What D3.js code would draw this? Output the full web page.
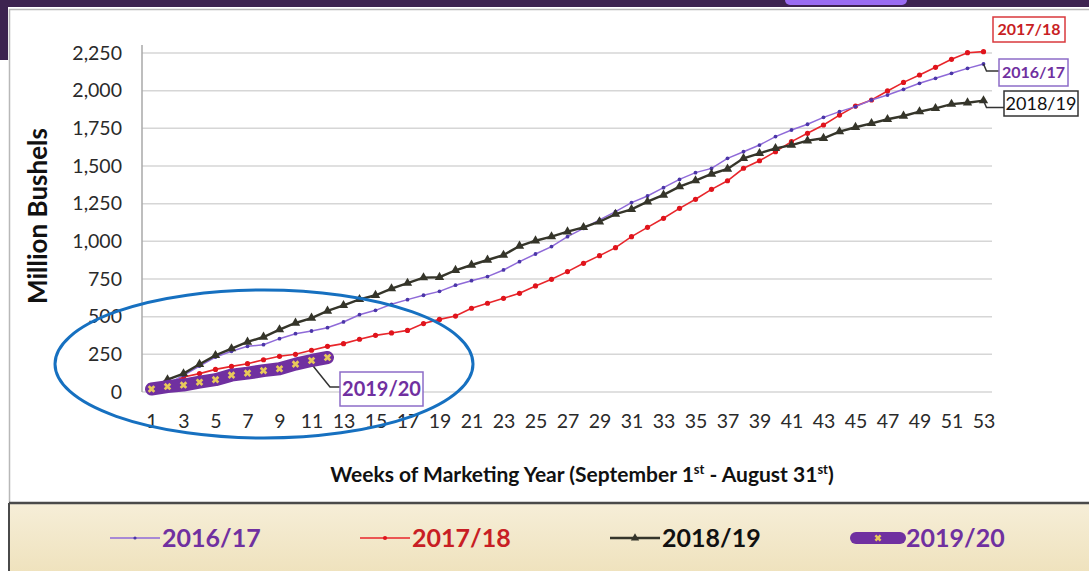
<!DOCTYPE html>
<html>
<head>
<meta charset="utf-8">
<script src="https://d3js.org/d3.v7.min.js"></script>
<style>
  body { margin: 0; background: #fff; }
  svg { display: block; font-family: Lato, "Open Sans", sans-serif; }
</style>
</head>
<body>
<div id="chart"></div>
<script>
// weekly cumulative exports, million bushels
var weeks = d3.range(1, 54);
var tickWeeks = weeks.filter(function(d){ return d % 2 === 1; });
var yTicks = [0, 250, 500, 750, 1000, 1250, 1500, 1750, 2000, 2250];

var my2016 = [15, 55, 110, 172, 232, 270, 303, 314, 354, 387,
              405, 427, 465, 513, 542, 582, 613, 642, 668, 709,
              739, 766, 810, 865, 916, 965, 1031, 1086, 1142, 1197,
              1257, 1301, 1356, 1411, 1456, 1484, 1551, 1595, 1639, 1695,
              1739, 1777, 1823, 1861, 1894, 1938, 1971, 2009, 2049, 2082,
              2115, 2148, 2177];
var my2017 = [15, 55, 100, 122, 150, 170, 188, 214, 237, 250,
              277, 303, 321, 350, 376, 392, 409, 454, 482, 504,
              556, 589, 622, 655, 704, 748, 799, 854, 905, 958,
              1031, 1093, 1153, 1219, 1279, 1345, 1402, 1485, 1535, 1595,
              1662, 1717, 1772, 1838, 1898, 1938, 1998, 2055, 2104, 2155,
              2208, 2252, 2259];
var my2018 = [20, 82, 122, 184, 243, 288, 332, 365, 414, 458,
              491, 538, 575, 615, 642, 686, 723, 759, 762, 808,
              843, 876, 909, 969, 1004, 1031, 1064, 1093, 1130, 1181,
              1212, 1263, 1308, 1363, 1403, 1447, 1480, 1551, 1584, 1617,
              1639, 1668, 1684, 1728, 1757, 1783, 1810, 1832, 1861, 1883,
              1911, 1920, 1934];
var my2019 = [20, 36, 46, 65, 82, 112, 125, 142, 154, 185, 209, 229];

var seriesNames = ['2016/17', '2017/18', '2018/19', '2019/20'];

var W = 1089, H = 571;
var svg = d3.select('#chart').append('svg').attr('width', W).attr('height', H);

// slide frame
svg.append('rect').attr('x', 0).attr('y', 0).attr('width', W).attr('height', 7).attr('fill', '#3d2350');
svg.append('rect').attr('x', 0).attr('y', 0).attr('width', 8).attr('height', 60).attr('fill', '#3d2350');
svg.append('rect').attr('x', 785).attr('y', -6).attr('width', 122).attr('height', 11).attr('rx', 5).attr('fill', '#9a6cf2');
svg.append('rect').attr('x', 9.5).attr('y', 9.5).attr('width', W + 10).attr('height', 494)
    .attr('fill', '#fff').attr('stroke', '#b8b8b8').attr('stroke-width', 1.5);

// legend strip
var grad = svg.append('defs').append('linearGradient').attr('id', 'lg').attr('x1', 0).attr('y1', 0).attr('x2', 0).attr('y2', 1);
grad.append('stop').attr('offset', '0%').attr('stop-color', '#f6eed8');
grad.append('stop').attr('offset', '100%').attr('stop-color', '#efe2bd');
svg.append('rect').attr('x', 9).attr('y', 503).attr('width', W).attr('height', 70).attr('fill', 'url(#lg)');
svg.append('line').attr('x1', 9).attr('x2', W).attr('y1', 503).attr('y2', 503).attr('stroke', '#4a4a4a').attr('stroke-width', 2.5);
svg.append('line').attr('x1', 9).attr('x2', 9).attr('y1', 503).attr('y2', H).attr('stroke', '#4a4a4a').attr('stroke-width', 2);

// scales
var x = d3.scalePoint().domain(weeks).range([143.5, 991.5]).padding(0.5);
var y = d3.scaleLinear().domain([0, 2250]).range([392, 53]);

var plot = svg.append('g');

// gridlines
plot.selectAll('.grid').data(yTicks).enter().append('line')
    .attr('x1', 142).attr('x2', 992)
    .attr('y1', function(d){ return y(d); }).attr('y2', function(d){ return y(d); })
    .attr('stroke', '#d6d6d6').attr('stroke-width', 1.5);
plot.append('line').attr('x1', 142).attr('x2', 142).attr('y1', 45).attr('y2', 392)
    .attr('stroke', '#a8a8a8').attr('stroke-width', 1.5);

// axes
var yAxis = plot.append('g').attr('transform', 'translate(142,0)')
    .call(d3.axisLeft(y).tickValues(yTicks).tickFormat(d3.format(',')).tickSize(0).tickPadding(20));
var xAxis = plot.append('g').attr('transform', 'translate(0,392)')
    .call(d3.axisBottom(x).tickValues(tickWeeks).tickSize(0).tickPadding(22));
[yAxis, xAxis].forEach(function(a){
  a.select('.domain').remove();
  a.selectAll('text').attr('font-size', 19.5).attr('fill', '#2a2a2a').attr('font-family', 'Lato, sans-serif');
});

svg.append('text').attr('x', 582).attr('y', 482).attr('text-anchor', 'middle')
    .attr('font-size', 21).attr('font-weight', 'bold').attr('fill', '#111')
    .html('Weeks of Marketing Year (September 1<tspan font-size="13" dy="-8">st</tspan><tspan dy="8"> - August 31</tspan><tspan font-size="13" dy="-8">st</tspan><tspan dy="8">)</tspan>');
svg.append('text').attr('transform', 'translate(47,216) rotate(-90)').attr('text-anchor', 'middle')
    .attr('font-size', 26).attr('font-weight', 'bold').attr('fill', '#111').text('Million Bushels');

var line = d3.line().x(function(d, i){ return x(weeks[i]); }).y(function(d){ return y(d); });

// 2017/18
plot.append('path').datum(my2017).attr('d', line).attr('fill', 'none').attr('stroke', '#e8262b').attr('stroke-width', 1.6);
plot.selectAll('.m17').data(my2017).enter().append('circle')
    .attr('cx', function(d, i){ return x(weeks[i]); }).attr('cy', function(d){ return y(d); })
    .attr('r', 2.6).attr('fill', '#e0141c');

// 2016/17
plot.append('path').datum(my2016).attr('d', line).attr('fill', 'none').attr('stroke', '#8f6ad8').attr('stroke-width', 1.5);
plot.selectAll('.m16').data(my2016).enter().append('circle')
    .attr('cx', function(d, i){ return x(weeks[i]); }).attr('cy', function(d){ return y(d); })
    .attr('r', 1.9).attr('fill', '#4b36a8');

// 2018/19
plot.append('path').datum(my2018).attr('d', line).attr('fill', 'none').attr('stroke', '#35352a').attr('stroke-width', 2.4);
plot.selectAll('.m18').data(my2018).enter().append('path')
    .attr('transform', function(d, i){ return 'translate(' + x(weeks[i]) + ',' + y(d) + ')'; })
    .attr('d', d3.symbol().type(d3.symbolTriangle).size(38)).attr('fill', '#35352a');

// 2019/20
plot.append('path').datum(my2019).attr('d', line).attr('fill', 'none').attr('stroke', '#7030a0')
    .attr('stroke-width', 13).attr('stroke-linecap', 'round').attr('stroke-linejoin', 'round');
plot.selectAll('.m19').data(my2019).enter().append('path')
    .attr('transform', function(d, i){ return 'translate(' + x(weeks[i]) + ',' + y(d) + ') rotate(45)'; })
    .attr('d', d3.symbol().type(d3.symbolCross).size(36)).attr('fill', '#e8c95a');

// callout labels
function callout(label, bx, by, bw, bh, color, textColor, fs, weight, leader) {
  if (leader) {
    svg.append('path').attr('d', d3.line()(leader)).attr('fill', 'none').attr('stroke', '#333').attr('stroke-width', 1.5);
  }
  svg.append('rect').attr('x', bx).attr('y', by).attr('width', bw).attr('height', bh)
      .attr('fill', '#fff').attr('stroke', color).attr('stroke-width', 1.5);
  svg.append('text').attr('x', bx + bw / 2).attr('y', by + bh / 2).attr('dy', '0.36em')
      .attr('text-anchor', 'middle').attr('font-size', fs).attr('font-weight', weight)
      .attr('fill', textColor).text(label);
}
var xe = x(53);
callout('2017/18', 993, 17, 72, 25, '#d9383c', '#c81e24', 16, 'bold', null);
callout('2016/17', 999, 59, 69, 27, '#8d6cc8', '#7030a0', 16, 'bold',
        [[xe, y(my2016[52])], [xe + 3, y(my2016[52]) + 7], [999, y(my2016[52]) + 7]]);
callout('2018/19', 1004, 91, 74, 25, '#333', '#111', 18, 'normal',
        [[xe, y(my2018[52])], [xe + 3, y(my2018[52]) + 7], [1004, y(my2018[52]) + 7]]);
callout('2019/20', 340, 372, 83, 34, '#8d6cc8', '#7030a0', 20, 'bold',
        [[x(11) + 2, y(my2019[10]) + 6], [330, 387], [340, 387]]);

// hand-drawn ellipse
svg.append('ellipse').attr('cx', 264).attr('cy', 364).attr('rx', 209).attr('ry', 74)
    .attr('fill', 'none').attr('stroke', '#1670c0').attr('stroke-width', 3);

// legend
var legX = [110, 360, 610, 852];
var legColors = ['#8f6ad8', '#e8262b', '#35352a', '#7030a0'];
var legText = ['#7030a0', '#c81e24', '#111', '#7030a0'];
var leg = svg.selectAll('.leg').data(seriesNames).enter().append('g')
    .attr('transform', function(d, i){ return 'translate(' + legX[i] + ',538)'; });
leg.append('line').attr('x1', function(d, i){ return i === 3 ? 4 : 0; }).attr('x2', function(d, i){ return i === 3 ? 48 : 50; })
    .attr('stroke', function(d, i){ return legColors[i]; })
    .attr('stroke-width', function(d, i){ return i === 3 ? 12 : (i === 2 ? 2.4 : 1.6); })
    .attr('stroke-linecap', function(d, i){ return i === 3 ? 'round' : 'butt'; });
leg.append('path').attr('transform', function(d, i){ return 'translate(' + (i === 3 ? 26 : 25) + ',0)' + (i === 3 ? ' rotate(45)' : ''); })
    .attr('d', function(d, i){
      var t = [d3.symbolCircle, d3.symbolCircle, d3.symbolTriangle, d3.symbolCross][i];
      return d3.symbol().type(t).size([8, 14, 30, 30][i])();
    })
    .attr('fill', function(d, i){ return ['#4b36a8', '#e0141c', '#35352a', '#e8c95a'][i]; });
leg.append('text').attr('x', function(d, i){ return i === 3 ? 54 : 52; }).attr('dy', '0.36em')
    .attr('font-size', 25).attr('font-weight', 'bold')
    .attr('fill', function(d, i){ return legText[i]; }).text(String);
</script>
</body>
</html>
